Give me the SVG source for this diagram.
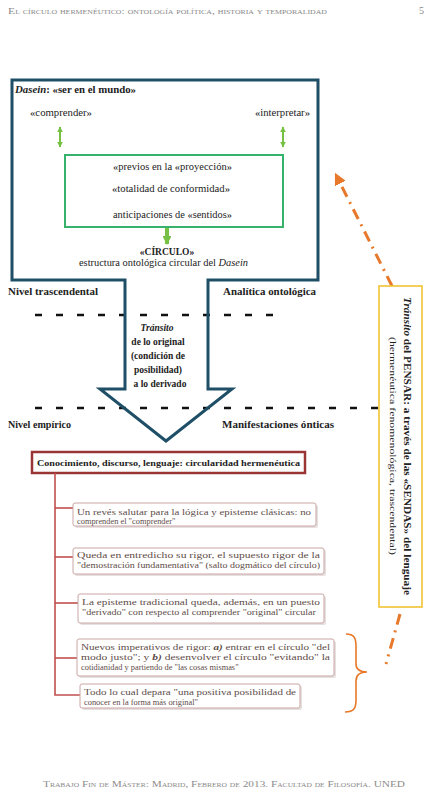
<svg xmlns="http://www.w3.org/2000/svg" width="426" height="798" viewBox="0 0 426 798">
<style>
  text { font-family: "Liberation Serif", "DejaVu Serif", serif; fill: #222; }
  .hdr { font-size: 9px; font-variant: small-caps; fill: #8a8a8a; }
  .b { font-weight: bold; }
  .lbl { font-size: 9.5px; }
  .box-t { font-size: 8.4px; fill: #5e4c48; }
  .sbox { fill: #fff; stroke: #c9a6a4; stroke-width: 1; }
  .shadow { fill: #e6e0e0; }
  .dash { stroke: #111; stroke-width: 2.6; stroke-dasharray: 7 14; fill: none; }
  .conn { stroke: #c0504d; stroke-width: 1.6; fill: none; }
  .green-a { stroke: #76c043; stroke-width: 2; fill: none; }
  .orange { stroke: #e8782a; stroke-width: 3; fill: none; stroke-dasharray: 11 6 2 6; }
</style>
<defs>
  <marker id="ga" viewBox="0 0 10 10" refX="9" refY="5" markerWidth="3" markerHeight="3" orient="auto-start-reverse">
    <path d="M0,0 L10,5 L0,10 z" fill="#76c043"/>
  </marker>
  <marker id="ga2" viewBox="0 0 10 10" refX="9" refY="5" markerWidth="2.2" markerHeight="2.2" orient="auto">
    <path d="M0,0 L10,5 L0,10 z" fill="#76c043"/>
  </marker>
  <marker id="oa" viewBox="0 0 10 10" refX="8" refY="5" markerWidth="4" markerHeight="4" orient="auto">
    <path d="M0,0 L10,5 L0,10 z" fill="#e8782a"/>
  </marker>
</defs>
<rect width="426" height="798" fill="#fff"/>

<!-- header / footer -->
<text class="hdr" x="8" y="14" textLength="319" lengthAdjust="spacingAndGlyphs">El círculo hermenéutico: ontología política, historia y temporalidad</text>
<text class="hdr" x="419" y="14" style="font-size:10px">5</text>
<text class="hdr" x="43" y="787" textLength="362" lengthAdjust="spacingAndGlyphs">Trabajo Fin de Máster: Madrid, Febrero de 2013. Facultad de Filosofía. UNED</text>

<!-- dashed level lines -->
<g id="levels">
  <line class="dash" x1="35" y1="315" x2="282" y2="315"/>
  <line class="dash" x1="35" y1="408" x2="426" y2="408"/>
</g>

<!-- Dasein frame + transit arrow -->
<g id="dasein">
  <path d="M125,280 L12,280 L12,80 L318,80 L318,280 L208,280 L208,389 L232,389 L166,441 L100,389 L125,389 Z" fill="none" stroke="#1f4f66" stroke-width="3" stroke-linejoin="miter"/>
  <text x="15" y="93" class="b" style="font-size:10.5px" textLength="121" lengthAdjust="spacingAndGlyphs"><tspan font-style="italic">Dasein</tspan>: «ser en el mundo»</text>
</g>

<g id="comprender"><text class="lbl" x="30" y="116" textLength="62" lengthAdjust="spacingAndGlyphs">«comprender»</text></g>
<g id="interpretar"><text class="lbl" x="255" y="116" textLength="55" lengthAdjust="spacingAndGlyphs">«interpretar»</text></g>

<g id="previos">
  <rect x="65" y="155" width="218" height="72" fill="none" stroke="#35b26b" stroke-width="2"/>
  <text class="lbl" x="113" y="170" textLength="119" lengthAdjust="spacingAndGlyphs">«previos en la «proyección»</text>
  <text class="lbl" x="112" y="192" textLength="118" lengthAdjust="spacingAndGlyphs">«totalidad de conformidad»</text>
  <text class="lbl" x="113" y="218" textLength="119" lengthAdjust="spacingAndGlyphs">anticipaciones de «sentidos»</text>
</g>

<g id="circulo">
  <text x="167" y="255" text-anchor="middle" class="b" style="font-size:9.5px">«CÍRCULO»</text>
  <text x="79" y="266" class="lbl" textLength="169" lengthAdjust="spacingAndGlyphs">estructura ontológica circular del <tspan font-style="italic">Dasein</tspan></text>
</g>

<g id="labels">
  <text x="8" y="295" class="b lbl" textLength="90" lengthAdjust="spacingAndGlyphs">Nivel trascendental</text>
  <text x="223" y="295" class="b lbl" textLength="93" lengthAdjust="spacingAndGlyphs">Analítica ontológica</text>
  <text x="8" y="428" class="b lbl" textLength="63" lengthAdjust="spacingAndGlyphs">Nivel empírico</text>
  <text x="222" y="428" class="b lbl" textLength="112" lengthAdjust="spacingAndGlyphs">Manifestaciones ónticas</text>
</g>

<g id="transito" class="b lbl" text-anchor="middle">
  <text x="157" y="331"><tspan font-style="italic">Tránsito</tspan></text>
  <text x="158" y="345">de lo original</text>
  <text x="158" y="359">(condición de</text>
  <text x="158" y="373">posibilidad)</text>
  <text x="160" y="387">a lo derivado</text>
</g>

<!-- lower hierarchy -->
<g id="conocimiento">
  <rect x="32" y="452" width="273" height="21" fill="#fff" stroke="#9a3535" stroke-width="2.5"/>
  <text x="37" y="466" class="b" style="font-size:8.6px" textLength="263" lengthAdjust="spacingAndGlyphs">Conocimiento, discurso, lenguaje: circularidad hermenéutica</text>
</g>

<g id="connectors">
  <path class="conn" d="M55,473 L55,695 L80,695"/>
  <line class="conn" x1="55" y1="508" x2="73" y2="508"/>
  <line class="conn" x1="55" y1="557" x2="73" y2="557"/>
  <line class="conn" x1="55" y1="603" x2="78" y2="603"/>
  <line class="conn" x1="55" y1="658" x2="77" y2="658"/>
  <line class="green-a" x1="60" y1="127" x2="60" y2="147" marker-start="url(#ga)" marker-end="url(#ga)"/>
  <line class="green-a" x1="283" y1="127" x2="283" y2="147" marker-start="url(#ga)" marker-end="url(#ga)"/>
  <line x1="167" y1="228" x2="167" y2="244" stroke="#76c043" stroke-width="4" marker-end="url(#ga2)"/>
  <path class="orange" d="M392,286 L336,175" marker-end="url(#oa)"/>
  <path class="orange" d="M400,614 L386,664"/>
  <path d="M346,634 C354,634 356,638 356,646 L356,664 C356,670 360,672 367,672 C360,672 356,675 356,681 L356,700 C356,708 354,712 345,712" fill="none" stroke="#e8782a" stroke-width="1.6"/>
</g>

<g id="b1">
  <rect class="shadow" x="75" y="505" width="243" height="23" rx="2"/>
  <rect class="sbox" x="73" y="503" width="243" height="23" rx="2"/>
  <text class="box-t" x="77" y="515" textLength="234" lengthAdjust="spacingAndGlyphs">Un revés salutar para la lógica y episteme clásicas: no</text>
  <text class="box-t" x="77" y="524">comprenden el "comprender"</text>
</g>

<g id="b2">
  <rect class="shadow" x="75" y="550" width="251" height="26" rx="2"/>
  <rect class="sbox" x="73" y="548" width="251" height="26" rx="2"/>
  <text class="box-t" x="77" y="558" textLength="243" lengthAdjust="spacingAndGlyphs">Queda en entredicho su rigor, el supuesto rigor de la</text>
  <text class="box-t" x="77" y="568" textLength="243" lengthAdjust="spacingAndGlyphs">"demostración fundamentativa" (salto dogmático del círculo)</text>
</g>

<g id="b3">
  <rect class="shadow" x="80" y="596" width="246" height="29" rx="2"/>
  <rect class="sbox" x="78" y="594" width="246" height="29" rx="2"/>
  <text class="box-t" x="82" y="605" textLength="238" lengthAdjust="spacingAndGlyphs">La episteme tradicional queda, además, en un puesto</text>
  <text class="box-t" x="82" y="615" textLength="234" lengthAdjust="spacingAndGlyphs">"derivado" con respecto al comprender "original" circular</text>
</g>

<g id="b4">
  <rect class="shadow" x="79" y="641" width="257" height="37" rx="2"/>
  <rect class="sbox" x="77" y="639" width="257" height="37" rx="2"/>
  <text class="box-t" x="81" y="650" textLength="249" lengthAdjust="spacingAndGlyphs">Nuevos imperativos de rigor: <tspan font-weight="bold" font-style="italic">a)</tspan> entrar en el círculo "del</text>
  <text class="box-t" x="81" y="660" textLength="249" lengthAdjust="spacingAndGlyphs">modo justo"; y <tspan font-weight="bold" font-style="italic">b)</tspan> desenvolver el círculo "evitando" la</text>
  <text class="box-t" x="81" y="670">cotidianidad y partiendo de "las cosas mismas"</text>
</g>

<g id="b5">
  <rect class="shadow" x="82" y="686" width="220" height="24" rx="2"/>
  <rect class="sbox" x="80" y="684" width="220" height="24" rx="2"/>
  <text class="box-t" x="84" y="695" textLength="212" lengthAdjust="spacingAndGlyphs">Todo lo cual depara "una positiva posibilidad de</text>
  <text class="box-t" x="84" y="705">conocer en la forma más original"</text>
</g>

<g id="pensar">
  <rect x="379" y="286" width="43" height="321" fill="#fff" stroke="#f0c232" stroke-width="1.6"/>
  <text transform="translate(404,297) rotate(90)" class="b" style="font-size:10px" textLength="298" lengthAdjust="spacingAndGlyphs"><tspan font-style="italic">Tránsito</tspan> del PENSAR: a través de las «SENDAS» del lenguaje</text>
  <text transform="translate(390,446) rotate(90)" text-anchor="middle" style="font-size:8.5px" textLength="218" lengthAdjust="spacingAndGlyphs">(hermenéutica fenomenológica, trascendental)</text>
</g>
</svg>
